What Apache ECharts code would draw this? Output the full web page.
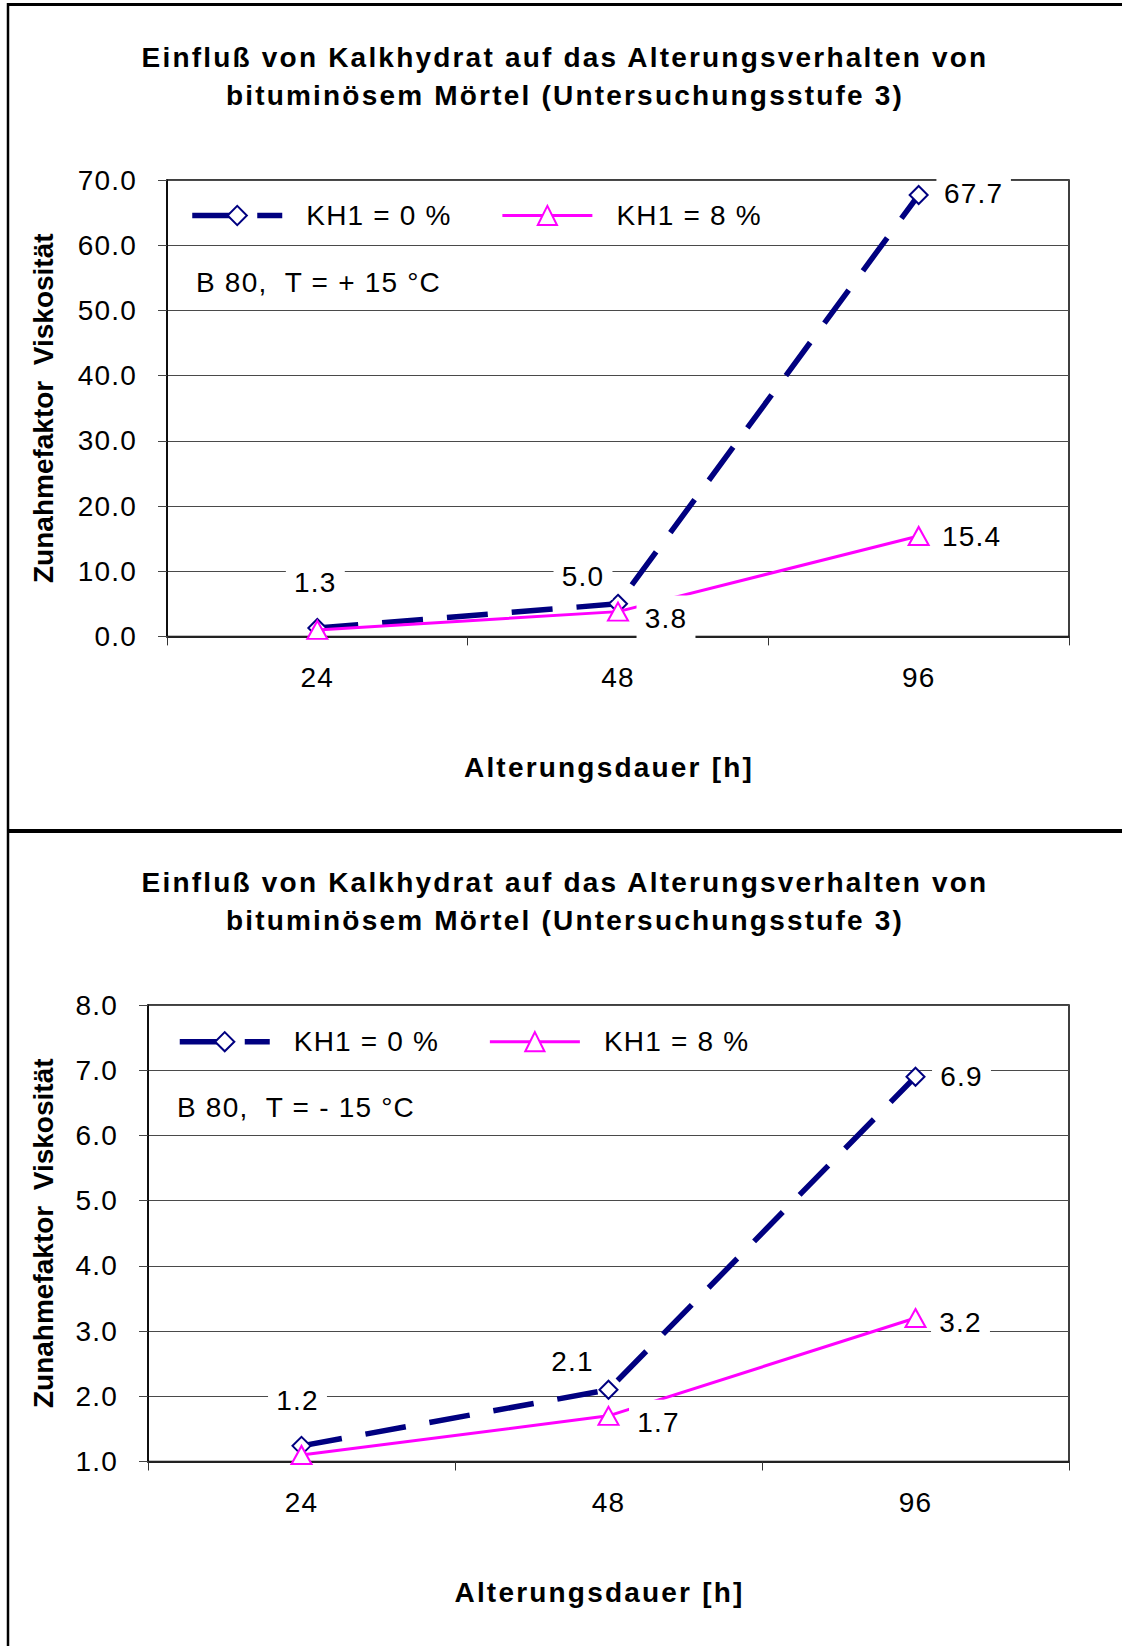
<!DOCTYPE html>
<html>
<head>
<meta charset="utf-8">
<script src="https://cdn.jsdelivr.net/npm/echarts@6/dist/echarts.min.js"></script>
<style>
html, body { margin: 0; padding: 0; background: #fff; }
#main { width: 1122px; height: 1646px; }
#main svg text[style*="Arial"], #main svg text[font-family*="Arial"] { letter-spacing: 1.2px; }
#main svg text[style*="Arial"][style*="bold"], #main svg text[font-family*="Arial"][font-weight="bold"] { letter-spacing: 2.2px; }
</style>
</head>
<body>
<div id="main"></div>
<script>
// ---------- data ----------
const categories = ['24', '48', '96'];
const seriesNames = ['KH1 = 0 %', 'KH1 = 8 %'];
const kh0Warm = [1.3, 5.0, 67.7];
const kh8Warm = [1.0, 3.8, 15.4];
const kh0Cold = [1.24, 2.1, 6.9];
const kh8Cold = [1.1, 1.7, 3.2];
const yScaleWarm = { min: 0, max: 70, interval: 10 };
const yScaleCold = { min: 1, max: 8, interval: 1 };
const titleText = 'Einfluß von Kalkhydrat auf das Alterungsverhalten von\nbituminösem Mörtel (Untersuchungsstufe 3)';
const noteWarm = 'B 80,  T = + 15 °C';
const noteCold = 'B 80,  T = - 15 °C';
const xName = 'Alterungsdauer [h]';
const yName = 'Zunahmefaktor  Viskosität';

// ---------- label placement (style only) ----------
const lblWarm0 = [[-2, -45], [-35, -27], [55, -1]];
const lblWarm8 = [null, [48, 7], [53, 1]];
const lblCold0 = [[-4, -45], [-36, -28], [46, 0]];
const lblCold8 = [null, [50, 7], [45, 4]];

const SP = 'Liberation Sans, Arial';   // letter-spaced text
const NS = 'Liberation Sans';          // plain text
const NAVY = '#000080';
const MAG = '#FF00FF';

function mkData(values, offsets) {
  return values.map((v, i) => ({
    value: v,
    label: offsets[i] ? { show: true, offset: offsets[i] } : { show: false }
  }));
}

const baseLabel = {
  show: true,
  position: 'inside',
  formatter: p => Number(p.value).toFixed(1),
  fontSize: 28,
  lineHeight: 28,
  fontFamily: SP,
  color: '#000',
  backgroundColor: '#fff',
  padding: [9, 10],
  textBorderWidth: 0,
  textBorderColor: 'transparent'
};

function navySeries(idx, values, offs) {
  return {
    name: seriesNames[0], type: 'line', xAxisIndex: idx, yAxisIndex: idx,
    data: mkData(values, offs),
    symbol: 'diamond', symbolSize: 18,
    itemStyle: { color: '#fff', borderColor: NAVY, borderWidth: 2 },
    lineStyle: { color: NAVY, width: 5.5, type: [41, 24] },
    label: baseLabel,
    emphasis: { disabled: true },
    z: 2
  };
}
function magSeries(idx, values, offs) {
  return {
    name: seriesNames[1], type: 'line', xAxisIndex: idx, yAxisIndex: idx,
    data: mkData(values, offs),
    symbol: 'triangle', symbolSize: [20, 18],
    itemStyle: { color: '#fff', borderColor: MAG, borderWidth: 2 },
    lineStyle: { color: MAG, width: 3, type: 'solid' },
    label: baseLabel,
    emphasis: { disabled: true },
    z: 3
  };
}

function xAxisCfg(idx) {
  return {
    type: 'category', gridIndex: idx, data: categories, boundaryGap: true,
    axisLine: { show: true, onZero: false, lineStyle: { color: '#222', width: 2 } },
    axisTick: { show: true, length: 9, lineStyle: { color: '#333', width: 1 } },
    axisLabel: { fontSize: 28, color: '#000', margin: 27, fontFamily: SP },
    splitLine: { show: false },
    name: xName, nameLocation: 'middle', nameGap: 117,
    nameTextStyle: { fontSize: 28, fontWeight: 'bold', color: '#000', fontFamily: SP, padding: [0, 18, 0, 0] }
  };
}
function yAxisCfg(idx, sc, gap) {
  return {
    type: 'value', gridIndex: idx, min: sc.min, max: sc.max, interval: sc.interval,
    axisLine: { show: true, lineStyle: { color: '#000', width: 1.5 } },
    axisTick: { show: true, length: 9, lineStyle: { color: '#444', width: 1 } },
    axisLabel: { fontSize: 28, color: '#000', margin: 30, fontFamily: SP, formatter: v => v.toFixed(1) },
    splitLine: { show: true, lineStyle: { color: '#4a4a4a', width: 1 } },
    name: yName, nameLocation: 'middle', nameGap: gap,
    nameTextStyle: { fontSize: 28, fontWeight: 'bold', color: '#000', fontFamily: NS }
  };
}

const legendItems = [
  { name: seriesNames[0],
    itemStyle: { color: '#fff', borderColor: NAVY, borderWidth: 2 },
    lineStyle: { color: NAVY, width: 5.5, type: [41, 24] } },
  { name: seriesNames[1],
    itemStyle: { color: '#fff', borderColor: MAG, borderWidth: 2 },
    lineStyle: { color: MAG, width: 3, type: 'solid' } }
];
function legendCfg(left, top) {
  return {
    left: left, top: top, orient: 'horizontal', padding: 0,
    itemWidth: 90, itemHeight: 24, itemGap: 60, selectedMode: false,
    textStyle: { fontSize: 28, color: '#000', fontFamily: SP, padding: [0, 0, 0, 19] },
    data: legendItems
  };
}
function titleCfg(top) {
  return {
    text: titleText, left: 565, top: top, textAlign: 'center', padding: 0,
    textStyle: { fontSize: 28, fontWeight: 'bold', lineHeight: 38, color: '#000', fontFamily: SP }
  };
}

const chart = echarts.init(document.getElementById('main'), null, { renderer: 'svg' });
chart.setOption({
  animation: false,
  backgroundColor: '#fff',
  title: [titleCfg(38), titleCfg(863)],
  legend: [legendCfg(189.5, 201.5), legendCfg(177, 1027.7)],
  grid: [
    { left: 167, top: 180, width: 902, height: 456.4, show: true, borderColor: '#000', borderWidth: 1.5, containLabel: false, outerBoundsMode: 'none' },
    { left: 148, top: 1005, width: 921, height: 456.5, show: true, borderColor: '#000', borderWidth: 1.5, containLabel: false, outerBoundsMode: 'none' }
  ],
  xAxis: [xAxisCfg(0), xAxisCfg(1)],
  yAxis: [yAxisCfg(0, yScaleWarm, 110), yAxisCfg(1, yScaleCold, 91)],
  series: [
    navySeries(0, kh0Warm, lblWarm0),
    magSeries(0, kh8Warm, lblWarm8),
    navySeries(1, kh0Cold, lblCold0),
    magSeries(1, kh8Cold, lblCold8)
  ],
  graphic: [
    { type: 'line', silent: true, shape: { x1: 8, y1: 3, x2: 8, y2: 1646 }, style: { stroke: '#000', lineWidth: 2.5 } },
    { type: 'line', silent: true, shape: { x1: 7, y1: 4.5, x2: 1122, y2: 4.5 }, style: { stroke: '#000', lineWidth: 3 } },
    { type: 'line', silent: true, shape: { x1: 7, y1: 831, x2: 1122, y2: 831 }, style: { stroke: '#000', lineWidth: 4 } },
    { type: 'text', silent: true, left: 196, top: 268, style: { text: noteWarm, fontSize: 28, fontFamily: SP, fill: '#000' } },
    { type: 'text', silent: true, left: 177, top: 1093, style: { text: noteCold, fontSize: 28, fontFamily: SP, fill: '#000' } }
  ]
});
</script>
</body>
</html>
